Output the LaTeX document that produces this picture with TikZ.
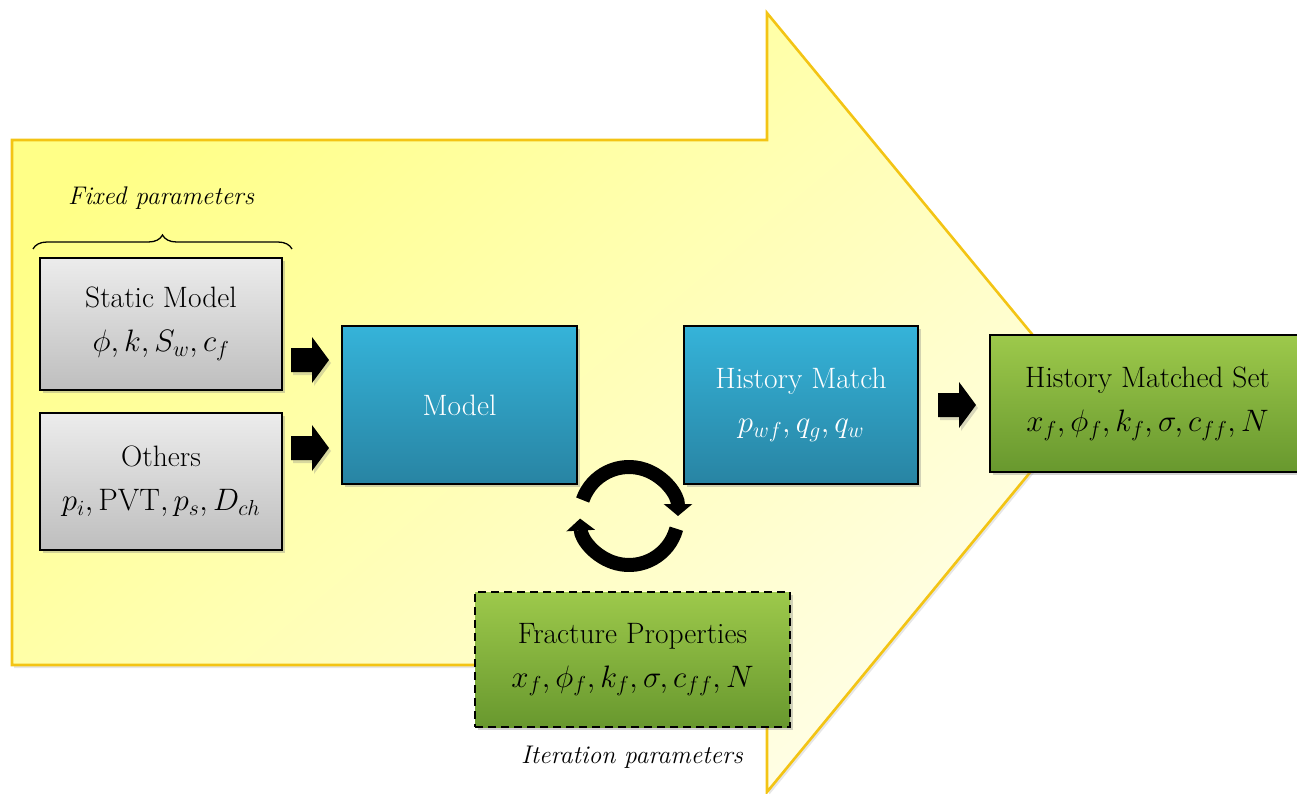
\RequirePackage{fix-cm}
\documentclass[tikz,border=0pt]{standalone}
\usetikzlibrary{shadows,decorations.pathreplacing,arrows.meta,calc}
\definecolor{arrowgold}{RGB}{243,196,20}
\definecolor{yelA}{RGB}{255,255,135}
\definecolor{yelM}{RGB}{255,255,200}
\definecolor{yelB}{RGB}{255,254,230}
\definecolor{grayT}{RGB}{236,236,236}
\definecolor{grayB}{RGB}{190,190,190}
\definecolor{blueT}{RGB}{53,179,217}
\definecolor{blueB}{RGB}{40,132,163}
\definecolor{greenT}{RGB}{157,201,75}
\definecolor{greenB}{RGB}{104,152,46}
\newcommand{\mth}[1]{{\fontsize{31}{44}\selectfont$#1$}}
\tikzset{
  boxbase/.style={draw=black, line width=1.6pt, rectangle, align=center,
    inner sep=0pt, font=\fontsize{29.5}{44}\selectfont,
    drop shadow={shadow xshift=2.5pt, shadow yshift=-3pt, opacity=0.35}},
  graybox/.style={boxbase, top color=grayT, bottom color=grayB},
  bluebox/.style={boxbase, top color=blueT, bottom color=blueB, text=white},
  greenbox/.style={boxbase, top color=greenT, bottom color=greenB},
  lab/.style={font=\itshape\fontsize{25.5}{28}\selectfont, inner sep=0pt},
  blockarr/.pic={
    \fill[black, drop shadow={shadow xshift=2pt, shadow yshift=-3pt, opacity=0.3}]
      (0,-12) -- (21,-12) -- (21,-23) -- (38,0) -- (21,23) -- (21,12) -- (0,12) -- cycle;
  },
  cyc/.style={line width=14pt, black, -{Triangle[width=28pt,length=12pt]}},
}
\begin{document}
\begin{tikzpicture}[x=1pt,y=-1pt]
\useasboundingbox (0,0) rectangle (1297,794);
% big background arrow
\path[draw=arrowgold, line width=2.6pt, line join=miter,
  top color=yelA, middle color=yelM, bottom color=yelB, shading angle=40,
  drop shadow={shadow xshift=2pt, shadow yshift=-3pt, opacity=0.2}]
  (12,140) -- (767,140) -- (767,13) -- (1088,402) -- (767,792) -- (767,665) -- (12,665) -- cycle;

% boxes
\node[graybox, minimum width=242pt, minimum height=132pt] (static) at (161,324)
  {Static Model\\\mth{\phi, k, S_w, c_f}};
\node[graybox, minimum width=242pt, minimum height=137pt] (others) at (161,481.5)
  {Others\\\mth{p_i, \mathrm{PVT}, p_s, D_{ch}}};
\node[bluebox, minimum width=235pt, minimum height=158pt] (model) at (459.5,405) {Model};
\node[bluebox, minimum width=234pt, minimum height=158pt] (hm) at (801,405)
  {History Match\\\mth{p_{wf}, q_g, q_w}};
\node[greenbox, minimum width=315pt, minimum height=137pt] (hms) at (1147.5,403.5)
  {History Matched Set\\\mth{x_f, \phi_f, k_f, \sigma, c_{ff}, N}};
\node[greenbox, dashed, dash pattern=on 8pt off 5pt, minimum width=315pt, minimum height=135pt] (frac) at (632.5,659.5)
  {Fracture Properties\\\mth{x_f, \phi_f, k_f, \sigma, c_{ff}, N}};

% block arrows
\pic (a1) at (291,360) {blockarr};
\pic (a2) at (291,448) {blockarr};
\pic (a3) at (938,405) {blockarr};

% cycle arrows
\coordinate (cc) at (629,516);
\draw[cyc] ([shift={(-161:49)}]cc) arc[start angle=-161, end angle=0, radius=49];
\draw[cyc] ([shift={(15:49)}]cc) arc[start angle=15, end angle=177, radius=49];

% brace and labels
\draw[decorate, decoration={brace, amplitude=14pt}, line width=1.3pt] (33,249) -- (292,249);
\node[lab] (fixlab) at (161,198) {Fixed parameters};
\node[lab] (itlab) at (632,757) {Iteration parameters};
\end{tikzpicture}
\end{document}
